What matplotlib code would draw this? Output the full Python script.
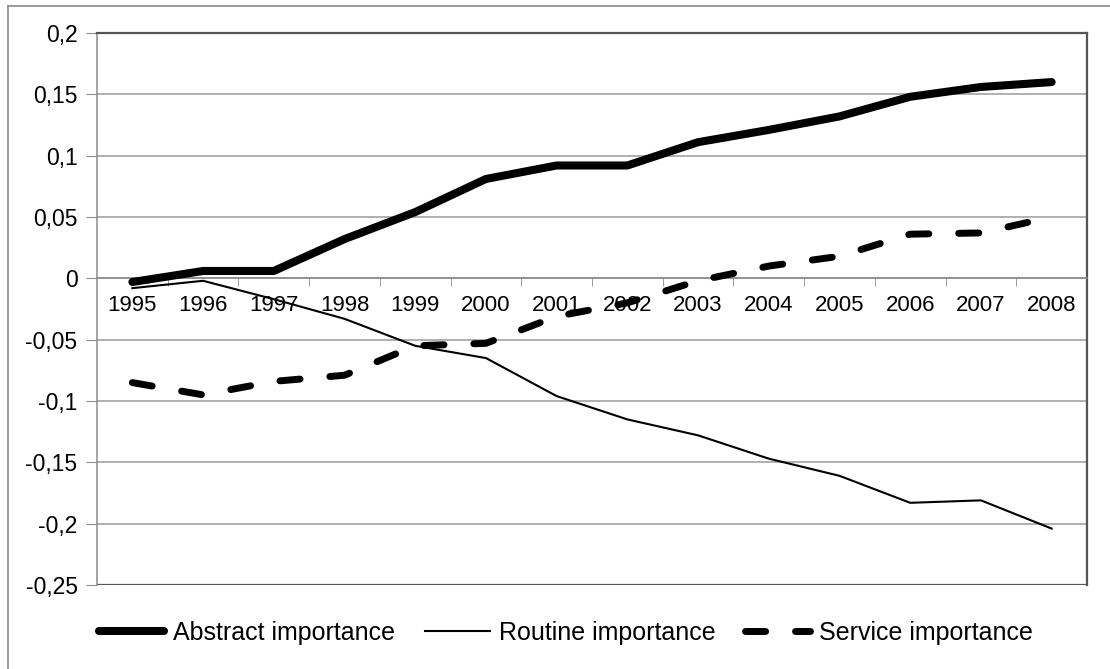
import matplotlib
matplotlib.use('Agg')
import matplotlib.pyplot as plt
from matplotlib.lines import Line2D

plt.rcParams['font.family'] = ['Liberation Sans', 'DejaVu Sans']

years = ['1995', '1996', '1997', '1998', '1999', '2000', '2001',
         '2002', '2003', '2004', '2005', '2006', '2007', '2008']
abstract = [-0.003, 0.006, 0.006, 0.032, 0.054, 0.081, 0.092,
            0.092, 0.111, 0.121, 0.132, 0.148, 0.156, 0.160]
routine = [-0.008, -0.002, -0.017, -0.033, -0.055, -0.065, -0.096,
           -0.115, -0.128, -0.147, -0.161, -0.183, -0.181, -0.204]
service = [-0.085, -0.095, -0.084, -0.079, -0.055, -0.053, -0.031,
           -0.020, -0.002, 0.010, 0.018, 0.036, 0.037, 0.050]
yticks = [0.2, 0.15, 0.1, 0.05, 0, -0.05, -0.1, -0.15, -0.2, -0.25]
ytick_labels = ['0,2', '0,15', '0,1', '0,05', '0', '-0,05', '-0,1', '-0,15', '-0,2', '-0,25']

W, H = 1110, 669
fig = plt.figure(figsize=(11.1, 6.69), dpi=100)
fig.patch.set_facecolor('white')
ax = fig.add_axes([97 / W, 1 - 585 / H, (1087 - 97) / W, (585 - 33) / H])

x = list(range(len(years)))
ax.plot(x, abstract, color='black', linewidth=5.8, solid_capstyle='round',
        label='Abstract importance', zorder=4)
ax.plot(x, routine, color='black', linewidth=1.5, label='Routine importance', zorder=4)
ax.plot(x, service, color='black', linewidth=5.0, dashes=(2.9, 4.3),
        dash_capstyle='round', label='Service importance', zorder=4)

ax.set_xlim(-0.5, len(years) - 0.5)
ax.set_ylim(-0.25, 0.2)

ax.set_yticks(yticks)
ax.set_yticklabels(ytick_labels, fontsize=16.5)
for v in yticks:
    if v not in (0.2, -0.25):
        ax.axhline(v, color='#9a9a9a', linewidth=1.1, zorder=1)
ax.axhline(-0.25, color='#555555', linewidth=1.6, zorder=2)

ax.spines['bottom'].set_position(('data', 0))
ax.spines['bottom'].set_color('#8a8a8a')
ax.spines['bottom'].set_linewidth(1.1)
ax.spines['left'].set_color('#8a8a8a')
ax.spines['left'].set_linewidth(1.1)
ax.spines['top'].set_color('#555555')
ax.spines['top'].set_linewidth(1.6)
ax.spines['right'].set_color('#555555')
ax.spines['right'].set_linewidth(1.6)

ax.set_xticks(x)
ax.set_xticklabels(years, fontsize=16)
ax.set_xticks([i + 0.5 for i in x[:-1]], minor=True)
ax.tick_params(axis='x', which='major', length=0, pad=12)
ax.tick_params(axis='x', which='minor', length=6, color='#8a8a8a', direction='out')
ax.tick_params(axis='y', length=8, color='#8a8a8a', pad=6)

fig.legend(loc='center', bbox_to_anchor=(566 / W, 1 - 633 / H), ncol=3,
           frameon=False, fontsize=18, handlelength=2.6, handletextpad=0.35,
           columnspacing=1.2)

# outer chart border (left and top only visible)
fig.add_artist(Line2D([8 / W, 8 / W], [0, 1 - 6 / H], color='#8a8a8a', linewidth=1.2))
fig.add_artist(Line2D([8 / W, 1], [1 - 6 / H, 1 - 6 / H], color='#8a8a8a', linewidth=1.2))

fig.savefig('out.png', dpi=100)
